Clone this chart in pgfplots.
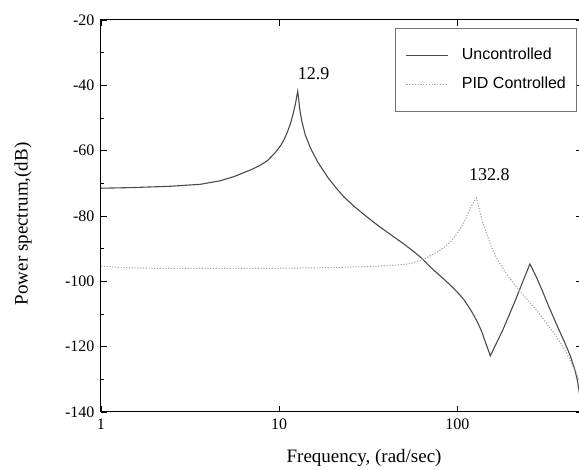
\documentclass[border=0pt]{standalone}
\usepackage{fontspec}
\setmainfont{Liberation Serif}
\newfontfamily\arialfont{Liberation Sans}
\usepackage{pgfplots}
\pgfplotsset{compat=1.18}

\definecolor{uncolor}{HTML}{4A4A4A}
\definecolor{pidcolor}{HTML}{A0A0A0}

\begin{document}
\begin{tikzpicture}
% page is the size of the reference (the right spine is cut off there)
\useasboundingbox (-101pt,-58pt) rectangle (478pt,412pt);
\begin{axis}[
  at={(0pt,0pt)}, anchor=south west,
  scale only axis, width=481pt, height=392pt,
  xmode=log, log basis x=10,
  xmin=1, xmax=500, ymin=-140, ymax=-20,
  xtick={1,10,100}, xticklabels={1,10,100},
  ytick={-140,-120,...,-20}, minor y tick num=1,
  /pgf/number format/assume math mode=true,
  tick label style={font=\rmfamily\fontsize{16}{16}\selectfont},
  xticklabel style={yshift=-3pt},
  yticklabel style={xshift=-3pt},
  tick align=inside,
  major tick length=6pt, minor tick length=3.5pt,
  axis line style={line width=1pt},
  every tick/.style={black, line width=0.8pt},
  xlabel={Frequency, (rad/sec)},
  ylabel={Power spectrum,(dB)},
  label style={font=\rmfamily\fontsize{19}{19}\selectfont},
  xlabel style={at={(axis description cs:0.547,-0.117)}, anchor=center},
  ylabel style={at={(axis description cs:-0.162,0.48)}, anchor=center},
  legend style={at={(axis description cs:0.612,0.98)}, anchor=north west,
    draw=black!55, line width=0.8pt,
    font=\arialfont\fontsize{16}{16}\selectfont,
    inner xsep=10pt, inner ysep=19pt, row sep=13pt, column sep=13pt,
    nodes={inner sep=0pt, text height=12pt, text depth=4pt}},
  legend cell align=left,
  legend image code/.code={\draw[#1] (0pt,0pt) -- (42pt,0pt);},
]
\addplot[uncolor, line width=1.1pt] coordinates {
  (1,-71.5) (1.5,-71.3) (2.45,-70.9) (3.61,-70.3) (4.68,-69.2) (5.54,-68.0)
  (6.91,-65.9) (7.87,-64.4) (8.61,-63.0) (9.5,-60.6) (10.2,-58.4) (10.6,-56.8)
  (11.1,-54.4) (11.6,-51.5) (12.0,-48.5) (12.35,-45.5) (12.55,-43.3) (12.7,-41.8)
  (12.85,-44.0) (13.05,-47.5) (13.4,-51.0) (14.0,-55.2) (15.0,-59.3) (16.5,-63.6)
  (18.8,-68.3) (21,-71.6) (23.1,-74.2) (26.5,-77.2) (30,-79.6) (33.5,-81.7)
  (37.3,-83.6) (41,-85.2) (45,-86.8) (49,-88.2) (53,-89.6) (57.5,-91.1)
  (62,-92.6) (66.5,-94.2) (71.4,-95.9) (78,-97.8) (85,-99.6) (93,-101.6)
  (101,-103.6) (108,-105.4) (115,-107.6) (120,-109.2) (125,-110.9) (130,-112.7)
  (135,-114.6) (139,-116.4) (142,-117.9) (145,-119.3) (148,-120.6) (153,-122.8)
  (180,-114.8) (210,-106.2) (235,-99.5) (255,-94.7)
  (265,-96.5) (280,-99.2) (300,-103.0) (326,-107.8) (360,-113.2) (401,-118.9)
  (430,-122.8) (456,-127.1) (472,-130.5) (487,-135.4) (500,-140.5)
};
\addlegendentry{Uncontrolled}
\addplot[pidcolor, line width=1.0pt, dash pattern=on 1.2pt off 1.6pt] coordinates {
  (1,-95.3) (1.3,-95.8) (2,-96.0) (5,-96.0) (10,-96.0) (20,-95.8) (35,-95.4)
  (46.5,-95.0) (54,-94.6) (60,-93.8) (66,-93.0) (71.4,-92.0) (78,-90.9)
  (85,-89.4) (91,-88.0) (96,-86.4) (101,-84.8) (106,-83.0) (111,-81.0)
  (115,-79.0) (119,-77.3) (122,-76.2) (125,-75.3) (128,-74.5)
  (130,-76.0) (133,-78.3) (136,-80.3) (140,-82.7) (145,-85.0) (150,-87.3)
  (155,-89.5) (165,-92.5) (175,-95.0) (184,-96.9) (194,-98.7) (207,-100.7)
  (221,-102.6) (240,-104.9) (260,-107.0) (280,-109.1) (297,-110.9)
  (320,-113.3) (350,-116.0) (375,-118.5) (401,-121.0) (425,-123.6)
  (450,-126.5) (466,-128.4) (481,-130.2) (500,-131.5)
};
\addlegendentry{PID Controlled}
\node[font=\rmfamily\fontsize{18}{18}\selectfont] at (axis cs:15.6,-36.5) {12.9};
\node[font=\rmfamily\fontsize{18}{18}\selectfont] at (axis cs:151,-67.4) {132.8};
\end{axis}
\end{tikzpicture}
\end{document}
